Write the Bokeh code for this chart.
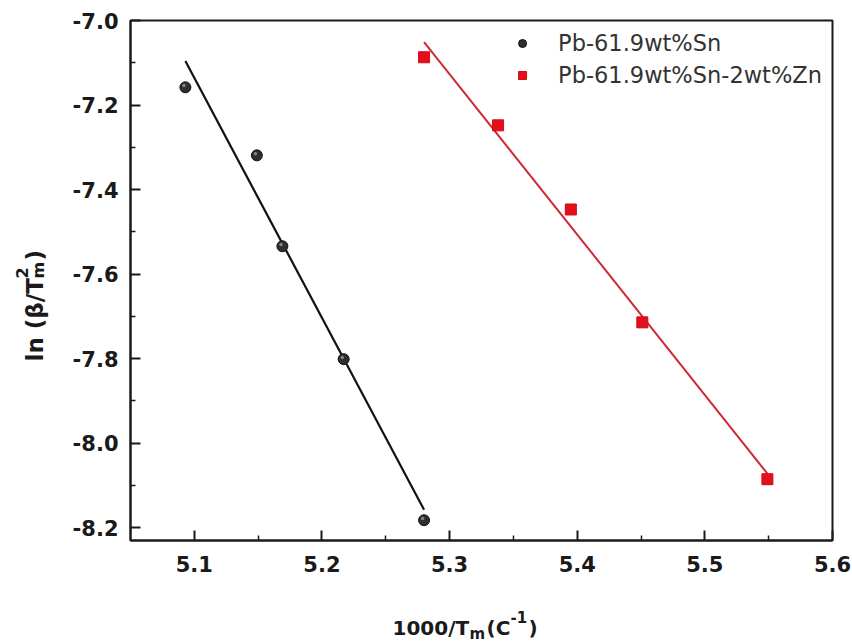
import numpy as np
from bokeh.plotting import figure
from bokeh.layouts import row, column
from bokeh.models import Range1d, FixedTicker, Label, Legend, LegendItem, CustomJSTickFormatter
from bokeh.embed import file_html
from bokeh.resources import INLINE

# ---- data ----
sn_x = [5.093, 5.149, 5.169, 5.217, 5.280]
sn_y = [-7.158, -7.319, -7.534, -7.801, -8.182]
zn_x = [5.280, 5.338, 5.395, 5.451, 5.549]
zn_y = [-7.087, -7.248, -7.447, -7.714, -8.085]
series_names = ["Pb-61.9wt%Sn", "Pb-61.9wt%Sn-2wt%Zn"]
x_ticks = [5.1, 5.2, 5.3, 5.4, 5.5, 5.6]
x_minor = [5.15, 5.25, 5.35, 5.45, 5.55]
y_ticks = [-8.2, -8.0, -7.8, -7.6, -7.4, -7.2, -7.0]
y_minor = [-8.1, -7.9, -7.7, -7.5, -7.3, -7.1]

X0, X1 = 5.05, 5.6
Y0, Y1 = -8.23, -7.0
W, H = 852, 643
YLAB_W = 60          # strip on the left holding the y title
XLAB_H = 40          # strip at the bottom holding the x title
MAIN_W, MAIN_H = W - YLAB_W, H - XLAB_H
BL, BR, BT, BB = 70, 20, 20, 63   # main figure borders

FONT = "DejaVu Sans"
INK = "#1a1a1a"

p = figure(width=MAIN_W, height=MAIN_H, output_backend="svg", toolbar_location=None,
           x_range=Range1d(X0, X1), y_range=Range1d(Y0, Y1),
           min_border_left=BL, min_border_right=BR, min_border_top=BT, min_border_bottom=BB)
p.background_fill_color = "white"
p.border_fill_color = "white"
p.grid.visible = False
p.outline_line_color = INK
p.outline_line_width = 2

for ax, ticks, minor in ((p.xaxis[0], x_ticks, x_minor), (p.yaxis[0], y_ticks, y_minor)):
    ax.ticker = FixedTicker(ticks=ticks, minor_ticks=minor)
    ax.axis_line_width = 2
    ax.axis_line_color = INK
    ax.major_tick_in = 10
    ax.major_tick_out = 0
    ax.minor_tick_in = 5
    ax.minor_tick_out = 0
    ax.major_tick_line_width = 2
    ax.minor_tick_line_width = 1.5
    ax.major_tick_line_color = INK
    ax.minor_tick_line_color = INK
    ax.major_label_text_font = FONT
    ax.major_label_text_font_style = "bold"
    ax.major_label_text_font_size = "21px"
    ax.major_label_text_color = INK
    ax.formatter = CustomJSTickFormatter(code="return tick.toFixed(1);")
p.xaxis[0].major_label_standoff = 15
p.yaxis[0].major_label_standoff = 12

# ---- fits ----
k1, b1 = np.polyfit(sn_x, sn_y, 1)
k2, b2 = np.polyfit(zn_x, zn_y, 1)
fx1 = np.array([min(sn_x), max(sn_x)])
fx2 = np.array([min(zn_x), max(zn_x)])
p.line(fx1, k1 * fx1 + b1, line_color="#111111", line_width=2.2)
p.line(fx2, k2 * fx2 + b2, line_color="#cc2a36", line_width=2)

r1 = p.scatter(sn_x, sn_y, marker="circle", size=11, fill_color="#2e2e2e", line_color="#111111", line_width=1)
r2 = p.scatter(zn_x, zn_y, marker="square", size=11, fill_color="#e3101c", line_color="#d00a16", line_width=1)
p.scatter(np.array(sn_x) - 0.0011, np.array(sn_y) + 0.004, marker="circle", size=3.5,
          fill_color="#9a9a9a", line_color=None, fill_alpha=0.8)

legend = Legend(items=[LegendItem(label=series_names[0], renderers=[r1]),
                       LegendItem(label=series_names[1], renderers=[r2])],
                location="top_right", border_line_color=None, background_fill_alpha=0,
                label_text_font=FONT, label_text_font_size="22.5px", label_text_color="#333333",
                glyph_width=20, glyph_height=20, label_height=20,
                label_standoff=26, spacing=6, padding=8, margin=10)
p.add_layout(legend)


def strip(w, h, xr, yr, bl=0, br=0, bt=0, bb=0):
    f = figure(width=w, height=h, output_backend="svg", toolbar_location=None,
               x_range=Range1d(*xr), y_range=Range1d(*yr),
               x_axis_type=None, y_axis_type=None,
               min_border_left=bl, min_border_right=br, min_border_top=bt, min_border_bottom=bb)
    f.outline_line_color = None
    f.grid.visible = False
    f.background_fill_color = "white"
    f.border_fill_color = "white"
    return f


# strips whose data coordinates equal the page's pixel coordinates
ylab = strip(YLAB_W, H, (0, YLAB_W), (H, 0))
# x strip shares the main figure's left/right borders (layout aligns them)
xlab = strip(MAIN_W, XLAB_H, (YLAB_W + BL, W - BR), (H, MAIN_H), bl=BL, br=BR)


def lab(f, text, px, py, size, angle=0):
    f.add_layout(Label(x=px, y=py, text=text, text_font=FONT, text_font_style="bold",
                       text_font_size=f"{size}px", text_color=INK, text_align="left",
                       text_baseline="alphabetic", angle=angle, angle_units="deg"))


# x-axis title: 1000/T_m(C^-1)
lab(xlab, "1000/T", 392, 627, 20)
lab(xlab, "m", 469, 633, 15)
lab(xlab, "(C", 486, 627, 20)
lab(xlab, "-1", 510, 616, 15)
lab(xlab, ")", 528, 627, 20)

# y-axis title: ln (β/T_m^2), rotated
lab(ylab, "ln (β/T", 34, 361, 23, 90)
lab(ylab, "2", 21, 278, 16, 90)
lab(ylab, "m", 38, 278, 16, 90)
lab(ylab, ")", 34, 260, 23, 90)

layout = row(ylab, column(p, xlab, spacing=0), spacing=0)
open("out.html", "w").write(file_html(layout, INLINE))
